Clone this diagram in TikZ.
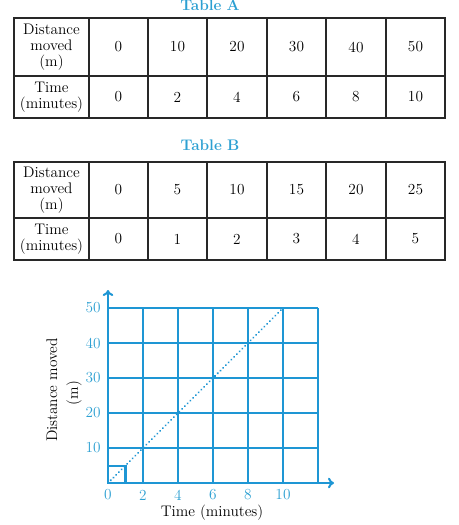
\documentclass[tikz,border=0pt]{standalone}
\usetikzlibrary{arrows.meta}
\definecolor{gline}{RGB}{30,150,212}
\definecolor{gtext}{RGB}{45,160,210}
\definecolor{tdark}{RGB}{40,40,40}
\begin{document}
\begin{tikzpicture}[x=0.75pt,y=-0.75pt,
  font=\fontsize{11.5}{12}\selectfont,
  cell/.style={align=center, inner sep=0pt},
  ttl/.style={font=\fontsize{11.5}{12}\selectfont\bfseries, text=gtext},
  tick/.style={text=gtext, font=\fontsize{11.5}{12}\selectfont, inner sep=0pt},
  tline/.style={draw=tdark, line width=0.8pt},
  gridl/.style={draw=gline, line width=2pt},
  axisl/.style={gridl, -{To[length=4.5pt,width=8pt,line width=1.5pt]}},
  dotl/.style={draw=gline, line width=1.6pt, line cap=round, dash pattern=on 0.01pt off 2.9pt},
]
\useasboundingbox (0,0) rectangle (458,525);

% ---------- Table A ----------
\node[ttl] (tA) at (210,5) {Table\,\,A};
\draw[tline] (14,18) rectangle (445,118);
\draw[tline] (14,76) -- (445,76);
\foreach \xx in {89,148,207,267,326,386} \draw[tline] (\xx,18) -- (\xx,118);
\node[cell] (a10) at (51.5,47) {Distance\\moved\\(m)};
\node[cell] (a20) at (51.5,97) {Time\\(minutes)};
\foreach \v/\w/\xx [count=\i] in {0/0/118.5,10/2/177.5,20/4/237,30/6/296.5,40/8/356,50/10/415.5}{
  \node[cell] (a1\i) at (\xx,47) {\v};
  \node[cell] (a2\i) at (\xx,97) {\w};
}

% ---------- Table B ----------
\node[ttl] (tB) at (210,145) {Table\,\,B};
\draw[tline] (14,162) rectangle (445,260);
\draw[tline] (14,218) -- (445,218);
\foreach \xx in {89,148,207,267,326,386} \draw[tline] (\xx,162) -- (\xx,260);
\node[cell] (b10) at (51.5,190) {Distance\\moved\\(m)};
\node[cell] (b20) at (51.5,239) {Time\\(minutes)};
\foreach \v/\w/\xx [count=\i] in {0/0/118.5,5/1/177.5,10/2/237,15/3/296.5,20/4/356,25/5/415.5}{
  \node[cell] (b1\i) at (\xx,190) {\v};
  \node[cell] (b2\i) at (\xx,239) {\w};
}

% ---------- Graph ----------
\coordinate (O) at (108,483);
\coordinate (ytop) at (108,290);
\coordinate (xend) at (334,483);
\coordinate (P) at (283,308);
\foreach \k in {1,...,6} \draw[gridl] (108+35*\k,483) -- (108+35*\k,308);
\foreach \j in {1,...,5} \draw[gridl] (108,483-35*\j) -- (318,483-35*\j);
\draw[gridl] (108,466) -| (125.5,483);
\draw[axisl] (O) -- (ytop);
\draw[axisl] (O) -- (xend);
\draw[dotl] (O) -- (P);

\foreach \t in {0,2,4,6,8,10} \node[tick] (xt\t) at (108+17.5*\t,495) {\t};
\foreach \d in {10,20,30,40,50} \node[tick, anchor=east] (yt\d) at (101,483-3.5*\d) {\d};

\node[font=\fontsize{11.5}{12}\selectfont] (xlab) at (212,513) {Time\,\,(minutes)};
\node[font=\fontsize{11.5}{12}\selectfont, rotate=90] (ylab1) at (52,390) {Distance\,\,moved};
\node[font=\fontsize{11.5}{12}\selectfont, rotate=90] (ylab2) at (74,393) {(m)};
\end{tikzpicture}
\end{document}
